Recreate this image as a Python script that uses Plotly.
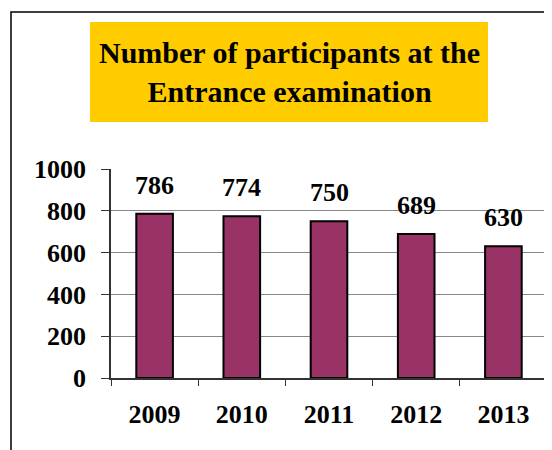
import plotly.graph_objects as go

years = ["2009", "2010", "2011", "2012", "2013"]
participants = [786, 774, 750, 689, 630]
y_ticks = [0, 200, 400, 600, 800, 1000]
title_lines = ["Number of participants at the", "Entrance examination"]

# page has an 8px body margin; size the figure so the plot lands at the right page pixels
OFF = 8
PAGE_W, PAGE_H = 552, 450
PL, PR, PT, PB = 111, 547, 169, 378  # plot area in page pixels
W, H = PAGE_W - OFF, PAGE_H - OFF
pw = PR - PL
ph = PB - PT


def px_x(p):
    return (p - PL) / pw


def px_y(p):
    return (PB - p) / ph


font = "Liberation Serif, Times New Roman, serif"

fig = go.Figure()
fig.add_trace(go.Bar(
    x=years, y=participants,
    marker=dict(color="#993366", line=dict(color="black", width=2)),
    width=0.42,
    hoverinfo="x+y",
))

# value labels above bars (category index positions on the category axis)
for i, v in enumerate(participants):
    fig.add_annotation(
        x=i, y=v, xref="x", yref="y", text="<b>%d</b>" % v,
        showarrow=False, yanchor="bottom", yshift=12,
        font=dict(family=font, size=26, color="black"),
    )

fig.update_layout(
    width=W, height=H,
    margin=dict(l=PL - OFF, r=PAGE_W - PR, t=PT - OFF, b=PAGE_H - PB),
    paper_bgcolor="white", plot_bgcolor="white",
    showlegend=False,
    font=dict(family=font, color="black"),
    xaxis=dict(
        type="category", automargin=False,
        range=[-0.5, len(years) - 0.5],
        tickvals=years, ticktext=["<b>%s</b>" % y for y in years],
        showline=True, linecolor="#333333", linewidth=1.5,
        ticks="outside", tickson="boundaries", ticklen=6, tickcolor="#333333",
        tickfont=dict(family=font, size=26, color="black"),
        ticklabelstandoff=12,
        showgrid=False,
    ),
    yaxis=dict(
        automargin=False,
        range=[0, 1000], tickvals=y_ticks,
        ticktext=["<b>%d</b>" % v for v in y_ticks],
        showline=True, linecolor="#333333", linewidth=1.5,
        ticks="outside", ticklen=8, tickcolor="#333333",
        tickfont=dict(family=font, size=26, color="black"),
        ticklabelstandoff=10,
        showgrid=True, gridcolor="#888888", gridwidth=1,
        zeroline=False,
    ),
)

shapes = [
    # outer frame (clipped by the page edges on the right and bottom)
    dict(type="rect", xref="paper", yref="paper",
         x0=px_x(11), x1=px_x(PAGE_W + 30), y0=px_y(PAGE_H + 30), y1=px_y(12),
         line=dict(color="black", width=1.5), fillcolor="rgba(0,0,0,0)", layer="below"),
    # right border of plot area
    dict(type="line", xref="paper", yref="paper", x0=1, x1=1, y0=0, y1=1,
         line=dict(color="#888888", width=1.5)),
    # title box
    dict(type="rect", xref="paper", yref="paper",
         x0=px_x(90), x1=px_x(488), y0=px_y(122), y1=px_y(22),
         line=dict(width=0), fillcolor="#FFCC00"),
]
fig.update_layout(shapes=shapes)

fig.add_annotation(
    xref="paper", yref="paper", x=px_x(289), y=px_y(72),
    text="<b>" + "<br>".join(title_lines) + "</b>", showarrow=False,
    font=dict(family=font, size=30, color="black"),
    xanchor="center", yanchor="middle", align="center",
)

fig.write_html("out.html")
